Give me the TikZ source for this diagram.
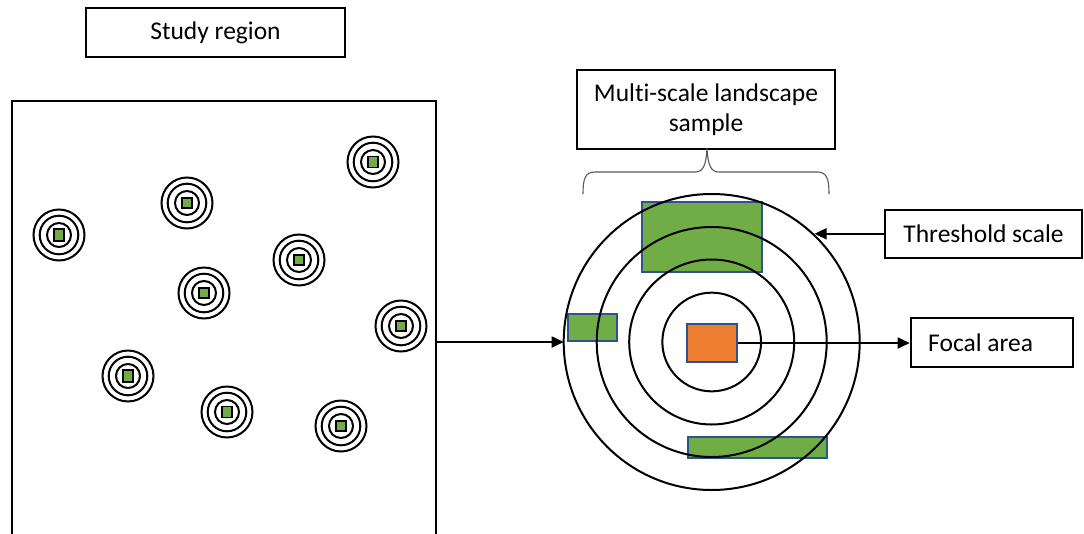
\documentclass[tikz,border=0pt]{standalone}
\usepackage{fontspec}
\setmainfont{Carlito}[Ligatures=CommonOff]
\usetikzlibrary{arrows.meta,calc}
\definecolor{pgreen}{HTML}{70AD47}
\definecolor{porange}{HTML}{ED7D31}
\definecolor{pblue}{HTML}{2F528F}
\definecolor{bracegray}{HTML}{595959}
\tikzset{
  lbl/.style={draw=black, line width=2pt, font=\fontsize{25.5}{30.5}\selectfont, inner sep=0pt, align=center},
  ring/.style={draw=black, line width=2pt},
  bigring/.style={draw=black, line width=2pt, circle, inner sep=0pt, outer sep=0pt},
  seed/.style={draw=black, line width=1.5pt, fill=pgreen, inner sep=0pt},
  patch/.style={draw=pblue, line width=1.8pt, fill=pgreen, inner sep=0pt},
  focal/.style={draw=pblue, line width=1.8pt, fill=porange, inner sep=0pt},
  arr/.style={draw=black, line width=1.8pt, -{Triangle[length=12pt,width=11pt]}},
}
\begin{document}
\begin{tikzpicture}[x=1pt,y=-1pt]
\useasboundingbox (0,0) rectangle (1084,533);
\clip (0,0) rectangle (1084,533);
\fill[white] (0,0) rectangle (1084,533);

% study region label and area
\node[lbl, minimum width=259pt, minimum height=49pt] (studylbl) at (215.5,32.5) {Study region};
\node[draw=black, line width=2pt, minimum width=424pt, minimum height=460pt, inner sep=0pt] (region) at (224,331) {};

% sample points
\foreach \x/\y/\w/\h [count=\i] in {59/235/10/12, 187/203/10/10, 373/162/10/11, 299/260/10/10, 204/293/10/10, 401/326/10/10, 128/376/10/12, 227/412/10/11, 341/426/10/10}{
  \draw[ring] (\x,\y) circle[radius=25.5];
  \draw[ring] (\x,\y) circle[radius=19.3];
  \draw[ring] (\x,\y) circle[radius=12];
  \node[seed, minimum width=\w pt, minimum height=\h pt] (s\i) at (\x,\y) {};
}

% landscape patches (under the rings)
\node[patch, minimum width=119.7pt, minimum height=70pt] (p1) at (702.2,237.3) {};
\node[patch, minimum width=49.6pt, minimum height=27pt] (p2) at (592.5,327.2) {};
\node[patch, minimum width=139pt, minimum height=20.4pt] (p3) at (757.2,447.5) {};

% multi-scale rings
\node[bigring, minimum size=296pt] (c4) at (711.7,342) {};
\node[bigring, minimum size=230pt] (c3) at (711.7,342) {};
\node[bigring, minimum size=165pt] (c2) at (711.7,342) {};
\node[bigring, minimum size=98.7pt] (c1) at (711.7,342) {};

% focal area
\node[focal, minimum width=50.6pt, minimum height=38pt] (focal) at (712,343) {};

% labels on the right
\node[lbl, minimum width=258pt, minimum height=79pt] (multi) at (706,109.5) {Multi-scale landscape\\sample};
\node[lbl, minimum width=197pt, minimum height=47.7pt] (thr) at (983.5,233.8) {Threshold scale};
\node[draw=black, line width=2pt, minimum width=162.6pt, minimum height=48.3pt, inner sep=0pt] (focbox) at (992,342.5) {};
\node[font=\fontsize{25.5}{30.5}\selectfont, anchor=west, inner sep=0pt] (foctext) at (928,342.5) {Focal area};

% brace
\draw[bracegray, line width=1.1pt] (583,194) .. controls (583,179) and (585,172) .. (595,172)
  -- (695,172) .. controls (703,172) and (706,166) .. (707,148)
  .. controls (708,166) and (711,172) .. (719,172)
  -- (817,172) .. controls (827,172) and (829,179) .. (829,194);

% connectors
\draw[arr] (c4.west -| region.east) -- (c4.west);
\draw[arr] (thr.west) -- (thr.west -| c4.46.9);
\draw[arr] (focal.east) -- (focal.east -| focbox.west);
\end{tikzpicture}
\end{document}
